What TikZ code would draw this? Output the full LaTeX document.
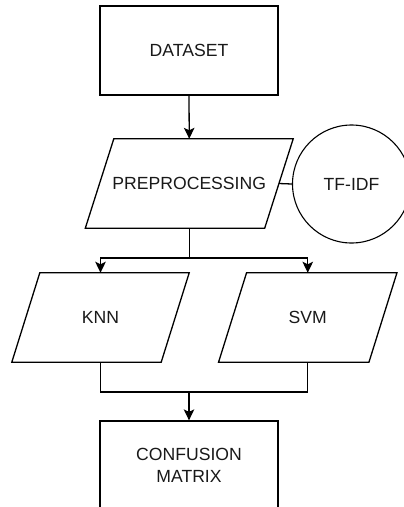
\documentclass[tikz,border=0pt]{standalone}
\usepackage{fontspec}
\setmainfont{Liberation Sans}
\usetikzlibrary{arrows.meta,calc}
\tikzset{
  every picture/.style={x=1pt,y=-1pt},
  label font/.style={font=\fontsize{17.6}{22}\selectfont, text=black!90},
  boxnode/.style={label font, draw, line width=1.3pt, minimum width=178pt, minimum height=89pt, inner sep=0pt, align=center},
  slantnode/.style={label font, minimum height=89pt, inner sep=0pt},
  ringnode/.style={label font, circle, draw, line width=1.1pt, minimum size=118pt, inner sep=0pt},
  wire/.style={line width=1.3pt},
  flow/.style={wire, -{Stealth[length=11pt,width=10.5pt,inset=2.5pt]}},
}
% parallelogram drawn around a (borderless) rectangular node, leaning right
\newcommand{\slantframe}[2]{%
  \draw[wire] ($(#1.north west)+(#2,0)$) -- ($(#1.north east)+(#2,0)$)
    -- ($(#1.south east)+(-#2,0)$) -- ($(#1.south west)+(-#2,0)$) -- cycle;}
\begin{document}
\begin{tikzpicture}
  \useasboundingbox (0,0) rectangle (404,507);
  \clip (0,0) rectangle (404,507);
  \fill[white] (0,0) rectangle (404,507);

  \node[boxnode] (data) at (189,50.5) {DATASET};
  \node[slantnode, minimum width=179pt] (pre) at (189.25,183.5) {PREPROCESSING};
  \slantframe{pre}{14.25}
  \node[ringnode] (tfidf) at (351.5,184) {TF-IDF};
  \node[slantnode, minimum width=149pt] (knn) at (100.5,317.5) {KNN};
  \slantframe{knn}{14}
  \node[slantnode, minimum width=150pt] (svm) at (307.75,317.5) {SVM};
  \slantframe{svm}{14}
  \node[boxnode] (conf) at (189,465.5) {CONFUSION\\MATRIX};

  \coordinate (split) at (189.25,258);
  \coordinate (merge) at (189,392);

  \draw[flow] (data.south) -- (pre.north);
  \draw[wire] (pre.east) -- (tfidf.west);
  \draw[wire] (pre.south) -- (split);
  \draw[flow] (split) -| (knn.north);
  \draw[flow] (split) -| (svm.north);
  \draw[wire] (knn.south) |- (merge);
  \draw[wire] (svm.south) |- (merge);
  \draw[flow] (merge) -- (conf.north);
\end{tikzpicture}
\end{document}
